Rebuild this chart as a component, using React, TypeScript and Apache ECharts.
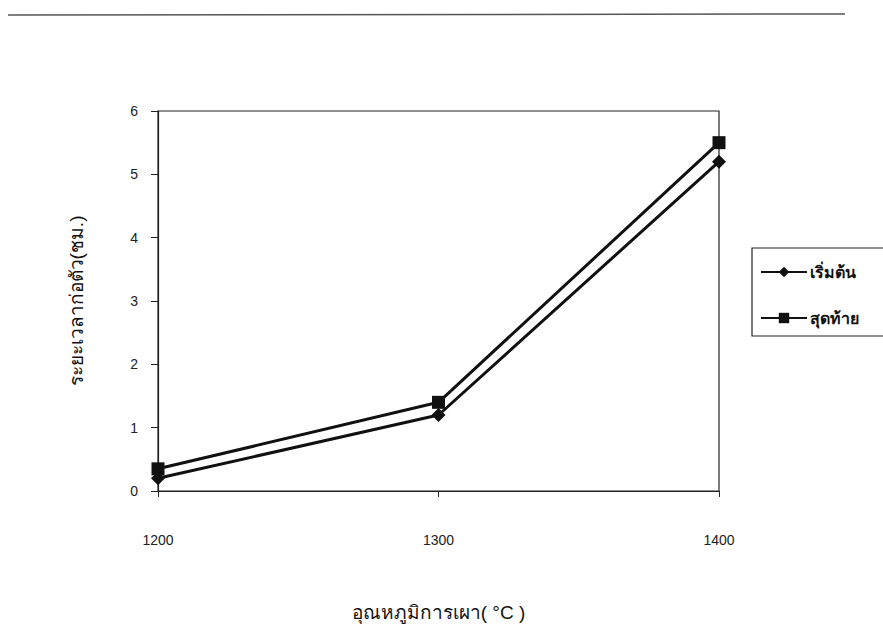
import React, { useEffect, useRef } from "react";
import * as echarts from "echarts";

const temps = [1200, 1300, 1400];
const startValues = [0.2, 1.2, 5.2];
const endValues = [0.35, 1.4, 5.5];
const seriesNames = ["เริ่มต้น", "สุดท้าย"];
const xTitle = "อุณหภูมิการเผา( °C )";
const yTitle = "ระยะเวลาก่อตัว(ชม.)";

const FONT = "'Liberation Sans', Arial, 'Noto Sans', sans-serif";

export default function App() {
  const ref = useRef<HTMLDivElement>(null);
  useEffect(() => {
    document.body.style.margin = "0";
    const chart = echarts.init(ref.current!, null, { renderer: "svg" });
    chart.setOption({
      animation: false,
      backgroundColor: "#ffffff",
      textStyle: { fontFamily: FONT, color: "#111" },
      grid: { left: 158, right: 164, top: 111, bottom: 147, show: true, borderColor: "#222", borderWidth: 1.2, backgroundColor: "transparent" },
      legend: {
        orient: "vertical",
        left: 752,
        top: 248,
        itemGap: 30,
        itemWidth: 46,
        itemHeight: 13,
        padding: [16, 30, 10, 8],
        borderColor: "#222",
        borderWidth: 1.2,
        textStyle: { fontSize: 16, color: "#111", fontWeight: "bold", padding: [0, 0, 0, -2] },
        data: seriesNames,
      },
      xAxis: {
        type: "value",
        min: 1200,
        max: 1400,
        interval: 100,
        name: xTitle,
        nameLocation: "middle",
        nameGap: 112,
        nameTextStyle: { fontSize: 19, color: "#111" },
        axisLine: { show: true, lineStyle: { color: "#222", width: 1.2 } },
        axisTick: { show: true, inside: false, length: 6, lineStyle: { color: "#222" } },
        axisLabel: { fontSize: 14, color: "#222", margin: 42, formatter: (v: number) => String(v) },
        splitLine: { show: false },
      },
      yAxis: {
        type: "value",
        min: 0,
        max: 6,
        interval: 1,
        name: yTitle,
        nameLocation: "middle",
        nameGap: 72,
        nameRotate: 90,
        nameTextStyle: { fontSize: 19, color: "#111" },
        axisLine: { show: true, lineStyle: { color: "#222", width: 1.2 } },
        axisTick: { show: true, length: 7, lineStyle: { color: "#222" } },
        axisLabel: { fontSize: 14, color: "#222", margin: 20 },
        splitLine: { show: false },
      },
      graphic: [
        { type: "line", shape: { x1: 8, y1: 15, x2: 845, y2: 14 }, style: { stroke: "#555", lineWidth: 1.5 } },
      ],
      series: [
        {
          name: seriesNames[0],
          type: "line",
          data: temps.map((t, i) => [t, startValues[i]]),
          symbol: "diamond",
          symbolSize: 14,
          lineStyle: { color: "#111", width: 3 },
          itemStyle: { color: "#111" },
          color: "#111",
        },
        {
          name: seriesNames[1],
          type: "line",
          data: temps.map((t, i) => [t, endValues[i]]),
          symbol: "rect",
          symbolSize: 13,
          lineStyle: { color: "#111", width: 3 },
          itemStyle: { color: "#111" },
          color: "#111",
        },
      ],
    });
    return () => chart.dispose();
  }, []);
  return <div ref={ref} style={{ width: 883, height: 638 }} />;
}
